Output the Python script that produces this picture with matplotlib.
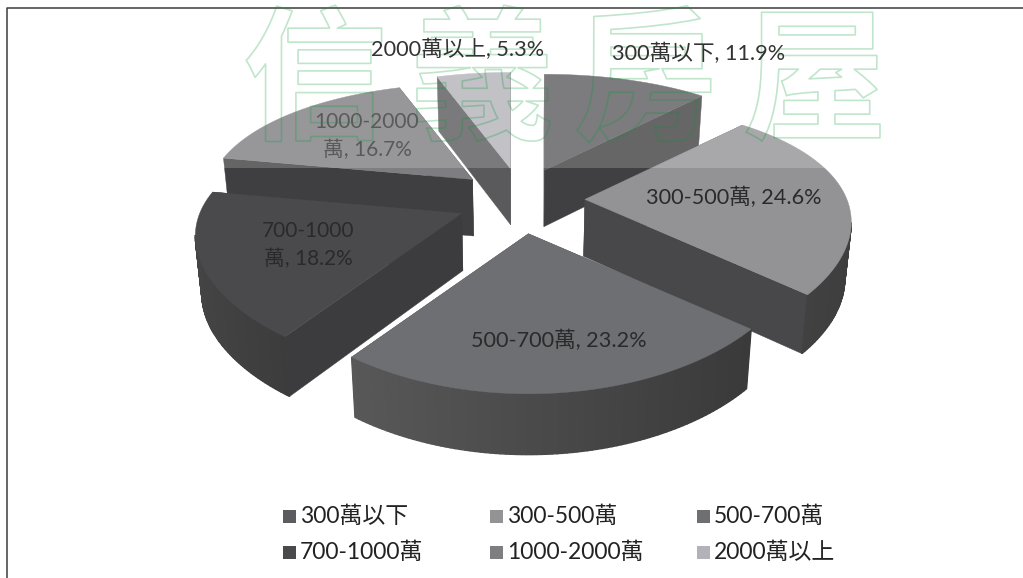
#!/usr/bin/env python3
import numpy as np
import matplotlib
matplotlib.use('Agg')
import matplotlib.pyplot as plt
import matplotlib.patheffects as pe
from matplotlib.patches import Rectangle

categories = ['300萬以下', '300-500萬', '500-700萬', '700-1000萬', '1000-2000萬', '2000萬以上']
values = [11.9, 24.6, 23.2, 18.2, 16.7, 5.3]
watermark = '信義房屋'

top_colors = ['#5c5c60', '#939396', '#6e6f73', '#4a4a4d', '#7e7e82', '#b2b2b8']
edge_colors = ['#404042', '#48484a', '#484849', '#3c3c3e', '#3f3f41', '#5a5a5c']
arc_left = [64, 70, 88, 68, 64, 80]
arc_right = [64, 62, 58, 60, 64, 80]

label_pos = [(699, 53), (734, 197), (559, 340), (308, 245), (367, 136), (458, 49)]
label_colors = ['#333333', '#2a2a2a', '#2a2a2a', '#2a2a2a', '#5a5a5a', '#333333']
wrapped = [False, False, False, True, True, False]

FONT = ['Lato', 'Noto Sans CJK TC', 'DejaVu Sans']
plt.rcParams['font.family'] = FONT

# projection of the tilted pie, all in picture pixels
CX, CY = 521, 201
EXPLODE_X, EXPLODE_Y = 64, 33
RX, RY = 262, 120
PERSP_X, PERSP_Y = 0.18, 0.25
DEPTH = 57


def project(tip, theta):
    x = tip[0] + RX * np.sin(theta) / (1 + PERSP_X * np.cos(theta))
    y = tip[1] - RY * np.cos(theta) / (1 + PERSP_Y * np.cos(theta))
    return x, y


def lower(x, y):
    # the bottom of the pie shrinks a little towards the middle
    return x + (CX - x) * 0.02, y + DEPTH + (y - CY) * 0.02


def draw_slice(ax, i, start, end):
    mid = (start + end) / 2
    tip = (CX + EXPLODE_X * np.sin(mid), CY - EXPLODE_Y * np.cos(mid))
    th = np.linspace(start, end, 90)
    xs, ys = project(tip, th)

    # straight side faces first, the top hides the ones facing away
    for x, y in [(xs[0], ys[0]), (xs[-1], ys[-1])]:
        bx, by = lower(x, y)
        tx, ty = lower(*tip)
        ax.fill([tip[0], x, bx, tx], [tip[1], y, by, ty], color=edge_colors[i], lw=0.3)

    # curved side, shaded along the rim
    for j in range(len(th) - 1):
        if np.cos(th[j]) > -PERSP_X:
            continue
        f = (xs[j] - xs.min()) / max(xs.max() - xs.min(), 1)
        g = (arc_left[i] + (arc_right[i] - arc_left[i]) * f) / 255
        b0, c0 = lower(xs[j], ys[j])
        b1, c1 = lower(xs[j + 1], ys[j + 1])
        ax.fill([xs[j], xs[j + 1], b1, b0], [ys[j], ys[j + 1], c1, c0],
                color=(g, g, g), lw=1.0)

    ax.fill(np.r_[tip[0], xs], np.r_[tip[1], ys], color=top_colors[i], lw=0.3)


fig = plt.figure(figsize=(10.23, 5.78), dpi=100)
ax = fig.add_axes([0, 0, 1, 1])
ax.set_xlim(0, 1023)
ax.set_ylim(578, 0)
ax.axis('off')

ax.plot([7, 7, 1023], [578, 8, 8], color='#3c3c3c', lw=1.1)

angles = np.r_[0, np.cumsum(values)] / sum(values) * 2 * np.pi
for i in [5, 0, 4, 1, 3, 2]:
    draw_slice(ax, i, angles[i], angles[i + 1])

# the watermark strip pales everything above it
ax.add_patch(Rectangle((205, 0), 725, 168, color='white', alpha=0.2, lw=0))

for ch, x in zip(watermark, [315, 482, 645, 815]):
    ax.text(x, 86, ch, fontsize=104, ha='center', va='center', color='none',
            family=['Noto Sans CJK TC'], weight='bold',
            path_effects=[pe.Stroke(linewidth=1.2, foreground=(0, 0.6, 0.2, 0.25))])

for i, cat in enumerate(categories):
    if wrapped[i]:
        label = f'{cat[:-1]}\n{cat[-1]}, {values[i]}%'
    else:
        label = f'{cat}, {values[i]}%'
    ax.text(*label_pos[i], label, fontsize=15 if wrapped[i] else 15.6, ha='center',
            va='center', color=label_colors[i], linespacing=1.45)

# legend, three equal columns
for i, cat in enumerate(categories):
    col, row = i % 3, i // 3
    x = 283 + col * 207
    y = 516 + row * 36
    ax.add_patch(Rectangle((x, y - 6.5), 13, 13, color=top_colors[i], lw=0))
    ax.text(x + 17, y, cat, fontsize=16.5, va='center', color='#222222')

fig.savefig('out.png', dpi=100)
